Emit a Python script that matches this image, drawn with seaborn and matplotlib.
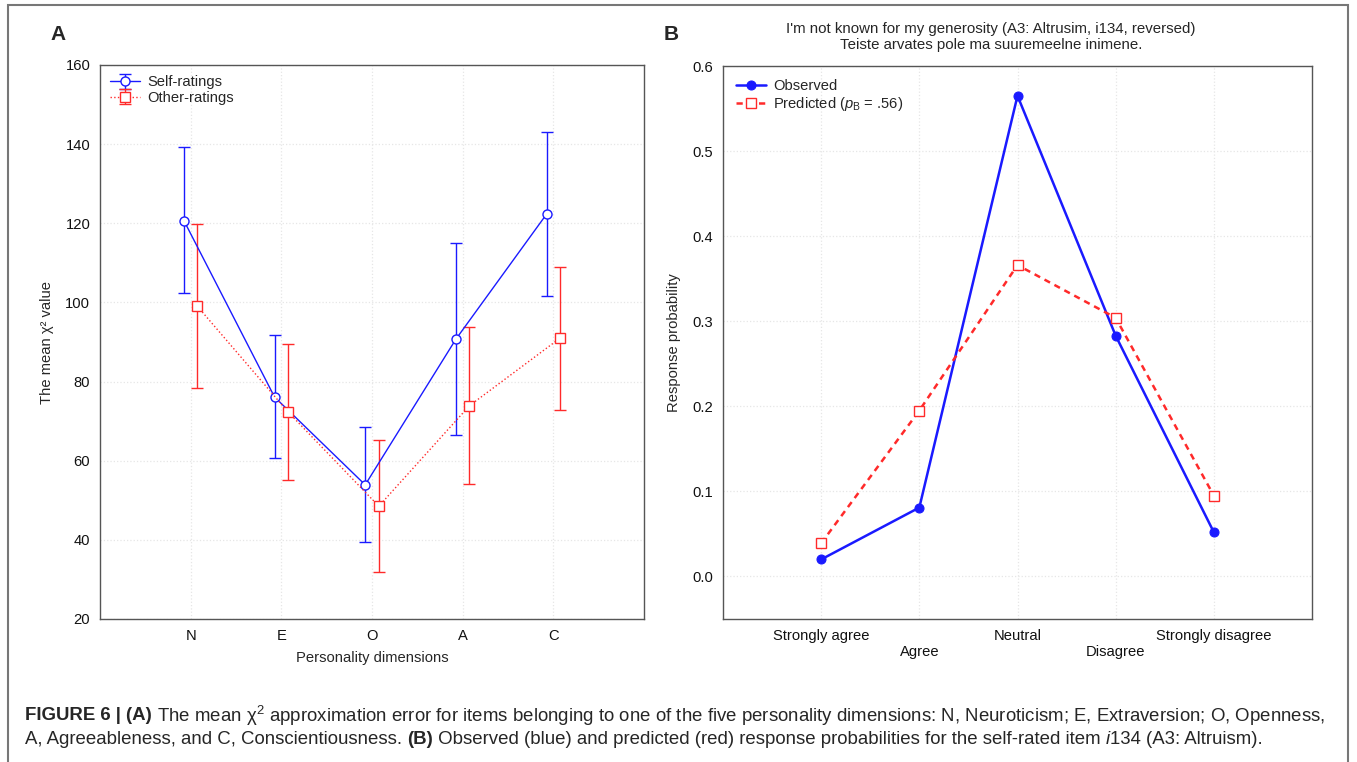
import matplotlib
matplotlib.use("Agg")
import matplotlib.pyplot as plt
import matplotlib.patches as mpatches
from matplotlib.legend_handler import HandlerTuple
import seaborn as sns
import numpy as np
import pandas as pd

# panel A: mean chi^2 per personality dimension (with error bars)
dims = ["N", "E", "O", "A", "C"]
self_mean = [120.7, 76.1, 53.9, 90.7, 122.3]
self_upper = [139.2, 91.8, 68.5, 115.0, 143.0]
self_lower = [102.3, 60.6, 39.4, 66.5, 101.5]
other_mean = [99.0, 72.3, 48.5, 73.9, 91.0]
other_upper = [119.7, 89.4, 65.2, 93.9, 109.0]
other_lower = [78.3, 55.2, 31.9, 54.1, 72.8]

# panel B: response probabilities
responses = ["Strongly agree", "Agree", "Neutral", "Disagree", "Strongly disagree"]
observed = [0.020, 0.081, 0.565, 0.283, 0.052]
predicted = [0.039, 0.195, 0.366, 0.304, 0.095]

sns.set_style("white")
plt.rcParams["font.family"] = ["Liberation Sans", "DejaVu Sans"]
plt.rcParams["mathtext.fontset"] = "custom"
plt.rcParams["mathtext.rm"] = "Liberation Sans"
plt.rcParams["mathtext.it"] = "Liberation Sans:italic"
plt.rcParams["mathtext.bf"] = "Liberation Sans:bold"

BLUE = "#1a1aff"
RED = "#ff2a2a"
SPINE = "#555555"
FS = 10.6

fig = plt.figure(figsize=(13.57, 7.62), dpi=100)
axA = fig.add_axes([100 / 1357, 1 - 619 / 762, 544 / 1357, 554 / 762])
axB = fig.add_axes([723 / 1357, 1 - 619 / 762, 589 / 1357, 553 / 762])


def style_axis(ax):
    ax.grid(True, color="#e6e6e6", linestyle=":", linewidth=0.9)
    for s in ax.spines.values():
        s.set_color(SPINE)
        s.set_linewidth(1.0)
    ax.tick_params(direction="in", length=3, width=0.8, color=SPINE,
                   labelsize=FS, pad=7, labelcolor="#111111")


# ---- panel A ----
pos = np.arange(1, len(dims) + 1)
off = 0.075
dfA = pd.DataFrame({"x": np.concatenate([pos - off, pos + off]),
                    "y": self_mean + other_mean,
                    "who": ["Self"] * 5 + ["Other"] * 5})

ebs = axA.errorbar(pos - off, self_mean,
                   yerr=[np.array(self_mean) - np.array(self_lower),
                         np.array(self_upper) - np.array(self_mean)],
                   fmt="none", ecolor=BLUE, elinewidth=1.0, capsize=4.5, capthick=1.0)
ebo = axA.errorbar(pos + off, other_mean,
                   yerr=[np.array(other_mean) - np.array(other_lower),
                         np.array(other_upper) - np.array(other_mean)],
                   fmt="none", ecolor=RED, elinewidth=1.0, capsize=4.5, capthick=1.0)
sns.lineplot(data=dfA[dfA.who == "Self"], x="x", y="y", ax=axA, color=BLUE,
             linewidth=1.0, marker="o", markersize=6.5, markerfacecolor="white",
             markeredgecolor=BLUE, markeredgewidth=1.0)
sns.lineplot(data=dfA[dfA.who == "Other"], x="x", y="y", ax=axA, color=RED,
             linewidth=1.0, linestyle=":", marker="s", markersize=6.5,
             markerfacecolor="white", markeredgecolor=RED, markeredgewidth=1.0)
lines = axA.get_lines()
ln_self, ln_other = lines[-2], lines[-1]

axA.set_xlim(0, 6)
axA.set_ylim(20, 160)
axA.set_xticks(pos)
axA.set_xticklabels(dims)
axA.set_yticks(np.arange(20, 161, 20))
style_axis(axA)
axA.set_xlabel("Personality dimensions", fontsize=FS, labelpad=6)
axA.set_ylabel("The mean χ² value", fontsize=FS, labelpad=8)
axA.legend([(ebs, ln_self), (ebo, ln_other)], ["Self-ratings", "Other-ratings"],
           handler_map={tuple: HandlerTuple(ndivide=1)}, loc="upper left",
           frameon=False, fontsize=FS, borderaxespad=0.3, handlelength=2.0,
           handletextpad=0.5, labelspacing=0.1)

# ---- panel B ----
posB = np.arange(1, len(responses) + 1)
dfB = pd.DataFrame({"x": np.concatenate([posB, posB]),
                    "p": observed + predicted,
                    "kind": ["Observed"] * 5 + ["Predicted"] * 5})
sns.lineplot(data=dfB[dfB.kind == "Observed"], x="x", y="p", ax=axB, color=BLUE,
             linewidth=1.8, marker="o", markersize=6.5, markeredgecolor=BLUE,
             label="Observed")
sns.lineplot(data=dfB[dfB.kind == "Predicted"], x="x", y="p", ax=axB, color=RED,
             linewidth=1.8, linestyle=(0, (2.5, 2)), marker="s", markersize=6.5,
             markerfacecolor="white", markeredgecolor=RED, markeredgewidth=1.0,
             label="Predicted ($p_\\mathrm{B}$ = .56)")
axB.set_xlim(0, 6)
axB.set_ylim(-0.05, 0.6)
axB.set_xticks(posB)
axB.set_xticklabels([r if i % 2 == 0 else "\n" + r for i, r in enumerate(responses)])
axB.set_yticks(np.arange(0, 0.61, 0.1))
axB.set_yticklabels([f"{v:.1f}" for v in np.arange(0, 0.61, 0.1)])
style_axis(axB)
axB.set_xlabel("")
axB.set_ylabel("Response probability", fontsize=FS, labelpad=8)
axB.legend(loc="upper left", frameon=False, fontsize=FS, borderaxespad=0.5,
           handlelength=2.0, handletextpad=0.5, labelspacing=0.1)

# ---- texts ----
fig.text(50 / 1357, 1 - 35 / 762, "A", fontsize=15, fontweight="bold", va="center")
fig.text(664 / 1357, 1 - 35 / 762, "B", fontsize=15, fontweight="bold", va="center")
fig.text(991 / 1357, 1 - 37 / 762,
         "I'm not known for my generosity (A3: Altrusim, i134, reversed)\n"
         "Teiste arvates pole ma suuremeelne inimene.",
         fontsize=10.8, ha="center", va="center", linespacing=1.15)

# frame around the whole figure
fig.patches.append(mpatches.Rectangle((8 / 1357, -0.01), 1340 / 1357, 1 - 5 / 762 + 0.01,
                                      transform=fig.transFigure, fill=False,
                                      edgecolor="#777777", linewidth=1.5))

# caption with mixed weights
renderer = fig.canvas.get_renderer()
CAP = 13.4


def put_runs(x0, y, runs):
    x = x0
    for txt, kw in runs:
        t = fig.text(x / 1357, 1 - y / 762, txt, fontsize=CAP, va="center", **kw)
        bb = t.get_window_extent(renderer=renderer)
        x += bb.width


put_runs(25, 716, [
    ("FIGURE 6 | (A)", {"fontweight": "bold"}),
    (" The mean χ$^2$ approximation error for items belonging to one of the five "
     "personality dimensions: N, Neuroticism; E, Extraversion; O, Openness,", {}),
])
put_runs(25, 740, [
    ("A, Agreeableness, and C, Conscientiousness. ", {}),
    ("(B)", {"fontweight": "bold"}),
    (" Observed (blue) and predicted (red) response probabilities for the self-rated item ", {}),
    ("i", {"fontstyle": "italic"}),
    ("134 (A3: Altruism).", {}),
])

fig.savefig("out.png", dpi=100)
